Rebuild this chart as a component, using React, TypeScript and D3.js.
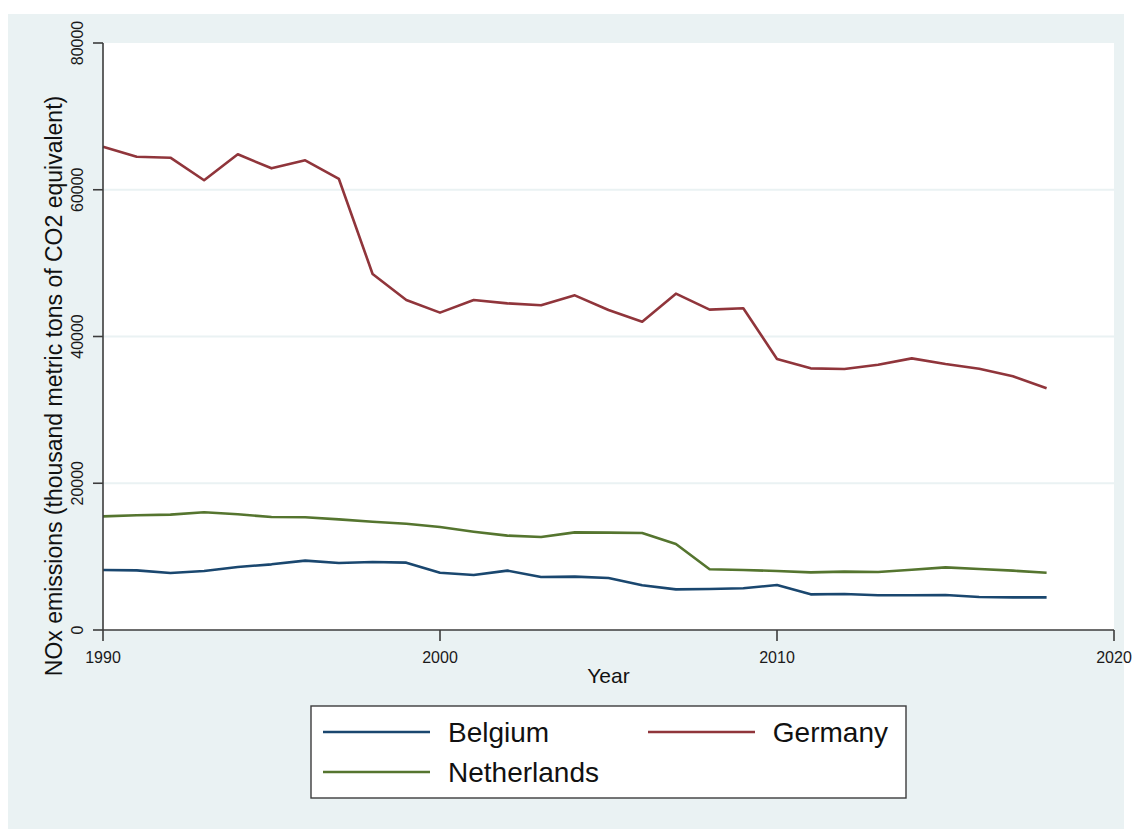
import React from "react";
import * as d3 from "d3";

const years = d3.range(1990, 2019);

const belgium = [
  8180, 8130, 7770, 8040, 8590, 8950, 9450, 9130, 9270, 9180,
  7810, 7500, 8090, 7220, 7270, 7090, 6090, 5540, 5590, 5680,
  6130, 4860, 4910, 4730, 4730, 4770, 4500, 4450, 4450,
];

const germany = [
  65870, 64500, 64370, 61290, 64830, 62920, 64010, 61470, 48520, 44970,
  43250, 44970, 44520, 44250, 45610, 43610, 42020, 45840, 43660, 43840,
  36930, 35660, 35570, 36160, 37020, 36250, 35610, 34570, 32940,
];

const netherlands = [
  15490, 15630, 15720, 16040, 15770, 15400, 15360, 15080, 14760, 14490,
  14040, 13400, 12860, 12670, 13310, 13270, 13220, 11720, 8270, 8180,
  8040, 7860, 7950, 7900, 8220, 8540, 8310, 8090, 7810,
];

const xTicks = [1990, 2000, 2010, 2020];
const yTicks = [0, 20000, 40000, 60000, 80000];

const series = [
  { name: "Belgium", values: belgium, color: "#1a476f" },
  { name: "Germany", values: germany, color: "#90353b" },
  { name: "Netherlands", values: netherlands, color: "#55752f" },
];

const W = 1132;
const H = 829;
const margin = { top: 43, right: 18, bottom: 199, left: 103 };
const font = "'Liberation Sans', Arial, sans-serif";
const bg = "#eaf2f3";
const axisColor = "#3c3c3c";

export default function App() {
  const x = d3
    .scaleLinear()
    .domain([1990, 2020])
    .range([margin.left, W - margin.right]);
  const y = d3
    .scaleLinear()
    .domain([0, 80000])
    .range([H - margin.bottom, margin.top]);

  const line = d3
    .line<number>()
    .x((d, i) => x(years[i]))
    .y((d) => y(d));

  const x0 = x(1990);
  const x1 = x(2020);
  const y0 = y(0);
  const yTop = y(80000);

  // legend layout (box + 2 columns)
  const lg = { left: 311, top: 706, width: 595, height: 92 };
  const rowY = [732, 772];
  const legendItems = [
    { s: series[0], kx: 323, tx: 448, ty: rowY[0], anchor: "start" },
    { s: series[1], kx: 648, tx: 888, ty: rowY[0], anchor: "end" },
    { s: series[2], kx: 323, tx: 448, ty: rowY[1], anchor: "start" },
  ];

  return (
    <svg
      width={W}
      height={H}
      style={{ position: "absolute", left: 0, top: 0, display: "block" }}
      fontFamily={font}
    >
      <rect x={0} y={0} width={W} height={H} fill="#ffffff" />
      <rect x={8} y={14} width={1116} height={H - 14} fill={bg} />
      <rect x={x0} y={yTop} width={x1 - x0} height={y0 - yTop} fill="#ffffff" />

      {/* gridlines */}
      {yTicks
        .filter((t) => t > 0 && t < 80000)
        .map((t) => (
          <line
            key={"g" + t}
            x1={x0}
            x2={x1}
            y1={y(t)}
            y2={y(t)}
            stroke={bg}
            strokeWidth={2}
          />
        ))}

      {/* series */}
      {series.map((s) => (
        <path
          key={s.name}
          d={line(s.values) || ""}
          fill="none"
          stroke={s.color}
          strokeWidth={2.6}
          strokeLinejoin="round"
        />
      ))}

      {/* y axis */}
      <line x1={x0} x2={x0} y1={yTop} y2={y0} stroke={axisColor} strokeWidth={1.6} />
      {yTicks.map((t) => (
        <g key={"y" + t}>
          <line x1={x0 - 10} x2={x0} y1={y(t)} y2={y(t)} stroke={axisColor} strokeWidth={1.6} />
          <text
            transform={`translate(83,${y(t)}) rotate(-90)`}
            textAnchor="middle"
            fontSize={16}
            fill="#1a1a1a"
          >
            {t}
          </text>
        </g>
      ))}
      <text
        transform={`translate(62,386) rotate(-90)`}
        textAnchor="middle"
        fontSize={23}
        fill="#111"
      >
        NOx emissions (thousand metric tons of CO2 equivalent)
      </text>

      {/* x axis */}
      <line x1={x0} x2={x1} y1={y0} y2={y0} stroke={axisColor} strokeWidth={1.6} />
      {xTicks.map((t) => (
        <g key={"x" + t}>
          <line x1={x(t)} x2={x(t)} y1={y0} y2={y0 + 11} stroke={axisColor} strokeWidth={1.6} />
          <text x={x(t)} y={663} textAnchor="middle" fontSize={16} fill="#1a1a1a">
            {t}
          </text>
        </g>
      ))}
      <text x={(x0 + x1) / 2} y={683} textAnchor="middle" fontSize={21} fill="#111">
        Year
      </text>

      {/* legend */}
      <rect
        x={lg.left}
        y={lg.top}
        width={lg.width}
        height={lg.height}
        fill="#ffffff"
        stroke={axisColor}
        strokeWidth={1.4}
      />
      {legendItems.map((it) => (
        <g key={"l" + it.s.name}>
          <line
            x1={it.kx}
            x2={it.kx + 107}
            y1={it.ty}
            y2={it.ty}
            stroke={it.s.color}
            strokeWidth={2.6}
          />
          <text
            x={it.tx}
            y={it.ty + 10}
            textAnchor={it.anchor}
            fontSize={28}
            fill="#111"
          >
            {it.s.name}
          </text>
        </g>
      ))}
    </svg>
  );
}
